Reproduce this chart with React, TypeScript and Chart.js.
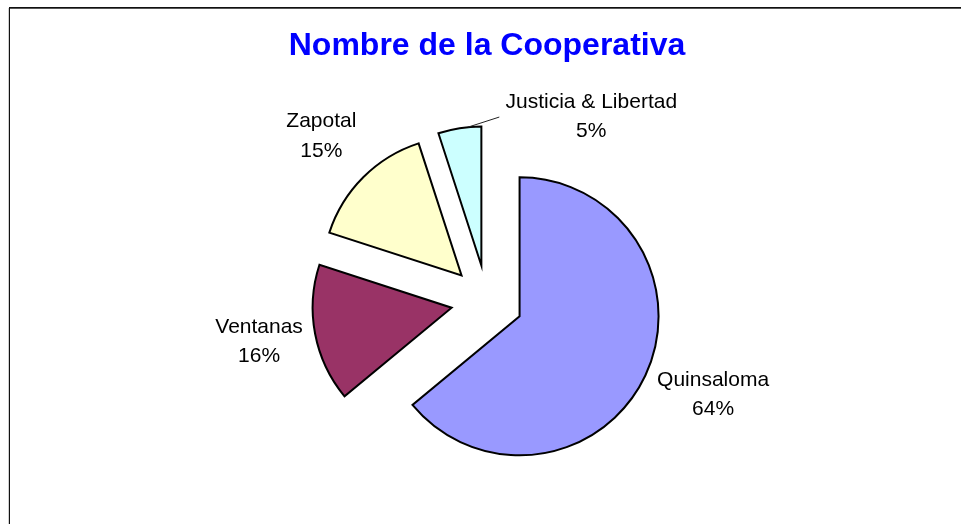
import React, { useEffect, useRef } from 'react';
import { Chart, registerables } from 'chart.js';

Chart.register(...registerables);

// ---- data ----
const categories = ['Quinsaloma', 'Ventanas', 'Zapotal', 'Justicia & Libertad'];
const values = [64, 16, 15, 5];
const colors = ['#9999FF', '#993366', '#FFFFCC', '#CCFFFF'];
const chartTitle = 'Nombre de la Cooperativa';

// ---- layout / style constants ----
const EXPLODE = 36; // px each slice is pulled out from the centre
const RADIUS = 139;
const FONT_FAMILY = '"Liberation Sans", Arial, Helvetica, sans-serif';
const LABEL_FONT = `21px ${FONT_FAMILY}`;
const LINE_GAP = 29.5;
const CAP = 15;
const LABEL_DIST = 55; // beyond the outer edge
const LABEL_NUDGE: ([number, number] | null)[] = [[18, -6], [-2, -4], [-3, -4], null];
const LEADER = { index: 3, frac: 0.7, end: [31, -10], text: [92, -2] };

const framePlugin = {
  id: 'frame',
  beforeDraw(chart: any) {
    const { ctx, width, height } = chart;
    ctx.save();
    ctx.fillStyle = '#ffffff';
    ctx.fillRect(0, 0, width, height);
    ctx.fillStyle = '#cfcfcf';
    ctx.fillRect(8, 8, 1, height);
    ctx.fillStyle = '#111111';
    ctx.fillRect(9, 7, width, 1);
    ctx.fillRect(9, 7, 1, height);
    ctx.fillStyle = '#555555';
    ctx.fillRect(10, 8, width, 1);
    ctx.restore();
  },
};

const explodePlugin = {
  id: 'explodeLabels',
  beforeDatasetDraw(chart: any, args: any) {
    const ctx = chart.ctx;
    args.meta.data.forEach((arc: any) => {
      const p = arc.getProps(['startAngle', 'endAngle'], true);
      const mid = (p.startAngle + p.endAngle) / 2;
      ctx.save();
      ctx.translate(Math.cos(mid) * EXPLODE, Math.sin(mid) * EXPLODE);
      arc.draw(ctx, chart.chartArea);
      ctx.restore();
    });
    return false;
  },
  afterDatasetsDraw(chart: any) {
    const ctx = chart.ctx;
    const meta = chart.getDatasetMeta(0);
    const total = values.reduce((a, b) => a + b, 0);
    ctx.save();
    ctx.font = LABEL_FONT;
    ctx.fillStyle = '#000000';
    ctx.textAlign = 'center';
    ctx.textBaseline = 'alphabetic';
    meta.data.forEach((arc: any, i: number) => {
      const p = arc.getProps(['x', 'y', 'startAngle', 'endAngle', 'outerRadius'], true);
      const mid = (p.startAngle + p.endAngle) / 2;
      const cx = p.x + Math.cos(mid) * EXPLODE;
      const cy = p.y + Math.sin(mid) * EXPLODE;
      let lx: number;
      let ly: number;
      if (i === LEADER.index) {
        const a = p.startAngle + LEADER.frac * (p.endAngle - p.startAngle);
        const sx = cx + Math.cos(a) * p.outerRadius;
        const sy = cy + Math.sin(a) * p.outerRadius;
        const ex = sx + LEADER.end[0];
        const ey = sy + LEADER.end[1];
        ctx.beginPath();
        ctx.moveTo(sx, sy);
        ctx.lineTo(ex, ey);
        ctx.strokeStyle = '#222222';
        ctx.lineWidth = 1;
        ctx.stroke();
        lx = ex + LEADER.text[0];
        ly = ey + LEADER.text[1];
      } else {
        const d = p.outerRadius + LABEL_DIST;
        const n = LABEL_NUDGE[i] || [0, 0];
        lx = cx + Math.cos(mid) * d + n[0];
        ly = cy + Math.sin(mid) * d + n[1];
      }
      const pct = Math.round((values[i] / total) * 100) + '%';
      ctx.fillText(categories[i], lx, ly - (CAP + LINE_GAP) / 2 + CAP);
      ctx.fillText(pct, lx, ly + (CAP + LINE_GAP) / 2);
    });
    ctx.restore();
  },
};

export default function App() {
  const canvasRef = useRef<HTMLCanvasElement | null>(null);

  useEffect(() => {
    const canvas = canvasRef.current;
    if (!canvas) return;
    const chart = new Chart(canvas, {
      type: 'pie',
      data: {
        labels: categories,
        datasets: [
          {
            data: values,
            backgroundColor: colors,
            borderColor: '#000000',
            borderWidth: 2,
            borderJoinStyle: 'miter',
            offset: 0,
            radius: RADIUS,
          } as any,
        ],
      },
      options: {
        responsive: false,
        animation: false,
        events: [],
        radius: RADIUS,
        layout: { padding: { left: 13, right: 0, top: 0, bottom: 6.4 } },
        plugins: {
          legend: { display: false },
          tooltip: { enabled: false },
          title: {
            display: true,
            text: chartTitle,
            color: '#0000FF',
            font: { family: FONT_FAMILY, size: 32, weight: 'bold', lineHeight: 1.2 },
            padding: { top: 27, bottom: 19 },
          },
        },
      } as any,
      plugins: [framePlugin, explodePlugin],
    });
    return () => chart.destroy();
  }, []);

  return (
    <div style={{ position: 'fixed', left: 0, top: 0, width: 961, height: 524, background: '#fff' }}>
      <canvas ref={canvasRef} width={961} height={524} style={{ display: 'block' }} />
    </div>
  );
}
